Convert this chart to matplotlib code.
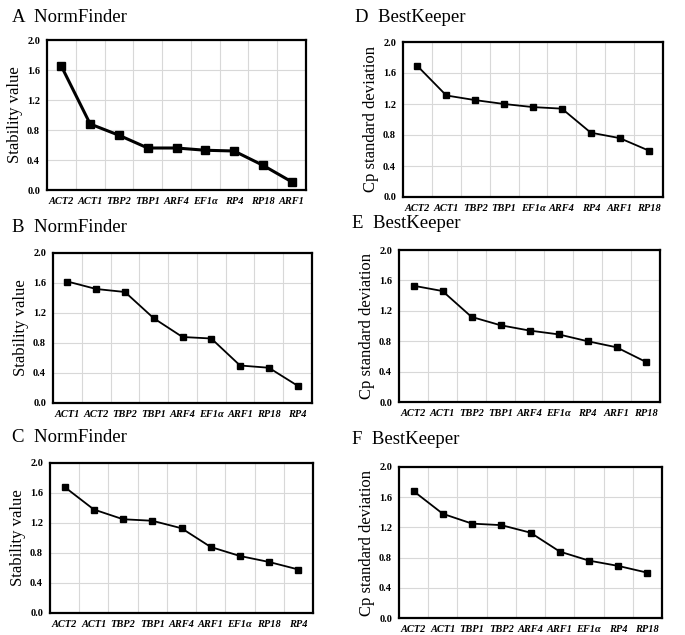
import matplotlib.pyplot as plt

# panel data
a_genes = ['ACT2', 'ACT1', 'TBP2', 'TBP1', 'ARF4', 'EF1α', 'RP4', 'RP18', 'ARF1']
a_vals = [1.65, 0.88, 0.73, 0.56, 0.56, 0.53, 0.52, 0.33, 0.11]

b_genes = ['ACT1', 'ACT2', 'TBP2', 'TBP1', 'ARF4', 'EF1α', 'ARF1', 'RP18', 'RP4']
b_vals = [1.62, 1.52, 1.48, 1.13, 0.88, 0.86, 0.50, 0.47, 0.23]

c_genes = ['ACT2', 'ACT1', 'TBP2', 'TBP1', 'ARF4', 'ARF1', 'EF1α', 'RP18', 'RP4']
c_vals = [1.68, 1.38, 1.25, 1.23, 1.13, 0.88, 0.76, 0.68, 0.58]

d_genes = ['ACT2', 'ACT1', 'TBP2', 'TBP1', 'EF1α', 'ARF4', 'RP4', 'ARF1', 'RP18']
d_vals = [1.69, 1.31, 1.25, 1.20, 1.16, 1.14, 0.83, 0.76, 0.60]

e_genes = ['ACT2', 'ACT1', 'TBP2', 'TBP1', 'ARF4', 'EF1α', 'RP4', 'ARF1', 'RP18']
e_vals = [1.53, 1.46, 1.12, 1.01, 0.94, 0.89, 0.80, 0.72, 0.53]

f_genes = ['ACT2', 'ACT1', 'TBP1', 'TBP2', 'ARF4', 'ARF1', 'EF1α', 'RP4', 'RP18']
f_vals = [1.68, 1.38, 1.25, 1.23, 1.13, 0.88, 0.76, 0.69, 0.60]

yticks = [0.0, 0.4, 0.8, 1.2, 1.6, 2.0]

W, H = 685, 635
fig = plt.figure(figsize=(W / 100, H / 100), dpi=100)
serif = 'Liberation Serif'

# (title, ylabel, genes, vals, box in pixels (l, t, r, b), title pos, lw, ms)
panels = [
    ('A  NormFinder', 'Stability value', a_genes, a_vals, (47, 40, 306, 190), (12, 18), 2.2, 6),
    ('B  NormFinder', 'Stability value', b_genes, b_vals, (53, 253, 312, 403), (12, 228), 1.3, 4.5),
    ('C  NormFinder', 'Stability value', c_genes, c_vals, (50, 463, 313, 613), (12, 437), 1.3, 4.5),
    ('D  BestKeeper', 'Cp standard deviation', d_genes, d_vals, (403, 42, 663, 197), (355, 18), 1.3, 4.5),
    ('E  BestKeeper', 'Cp standard deviation', e_genes, e_vals, (399, 250, 660, 402), (352, 224), 1.3, 4.5),
    ('F  BestKeeper', 'Cp standard deviation', f_genes, f_vals, (399, 467, 662, 618), (352, 440), 1.3, 4.5),
]

for title, ylab, genes, vals, box, tpos, lw, ms in panels:
    l, t, r, b = box
    ax = fig.add_axes([l / W, 1 - b / H, (r - l) / W, (b - t) / H])
    x = list(range(len(genes)))
    ax.plot(x, vals, color='black', linewidth=lw, marker='s', markersize=ms, zorder=3)
    ax.set_xlim(-0.5, len(genes) - 0.5)
    ax.set_ylim(0, 2.0)
    ax.set_yticks(yticks)
    ax.set_yticklabels(['%.1f' % v for v in yticks], fontfamily=serif, fontweight='bold', fontsize=7.5)
    ax.set_xticks(x)
    ax.set_xticklabels(genes, fontfamily=serif, fontweight='bold', fontstyle='italic', fontsize=7.5)
    # vertical grid between categories
    ax.set_xticks([i + 0.5 for i in range(len(genes) - 1)], minor=True)
    ax.grid(True, which='minor', axis='x', color='#d8d8d8', linewidth=0.8)
    ax.grid(True, which='major', axis='y', color='#d8d8d8', linewidth=0.8)
    ax.tick_params(axis='both', which='both', length=0, pad=5)
    for s in ax.spines.values():
        s.set_linewidth(1.6)
    ax.set_ylabel(ylab, fontfamily=serif, fontsize=12, labelpad=3)
    fig.text(tpos[0] / W, 1 - tpos[1] / H, title, fontfamily=serif, fontsize=13.5, va='center', ha='left')

plt.savefig('out.png', dpi=100)
